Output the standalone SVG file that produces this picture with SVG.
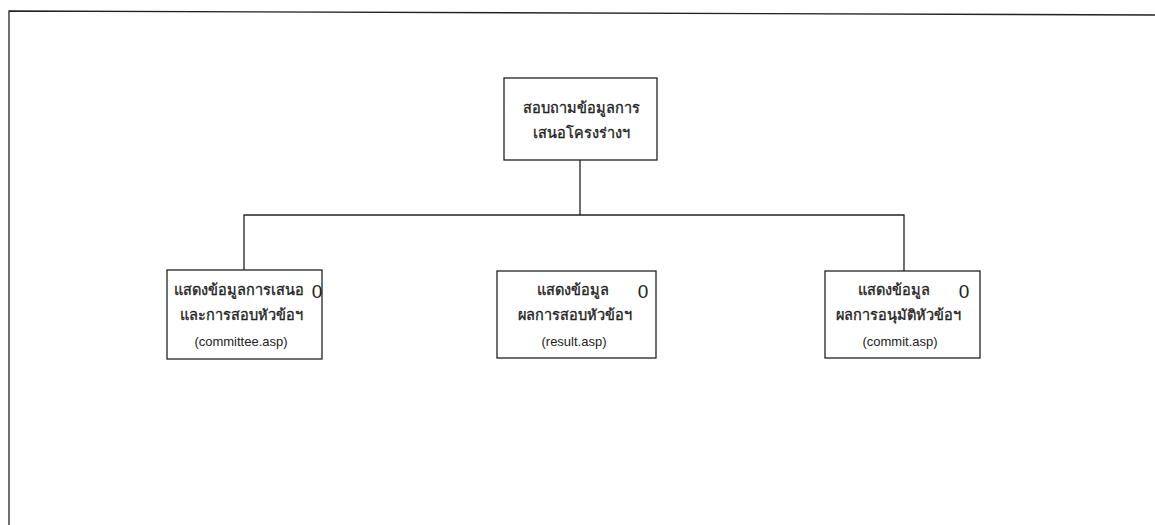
<svg xmlns="http://www.w3.org/2000/svg" width="1155" height="525" viewBox="0 0 1155 525">
<style>
.box{fill:#fff;stroke:#222;stroke-width:1.3}
.ln{fill:none;stroke:#222;stroke-width:1.3}
.t{font-family:"Noto Sans","DejaVu Sans",sans-serif;font-size:14.5px;fill:#222;stroke:#222;stroke-width:0.35;text-anchor:middle}
.s{font-family:"Liberation Sans",Arial,sans-serif;font-size:13px;fill:#222;text-anchor:middle}
.z{font-family:"Liberation Sans",Arial,sans-serif;font-size:19px;fill:#222;text-anchor:middle}
</style>
<rect width="1155" height="525" fill="#fff"/>
<g id="frame">
<path class="ln" d="M9,525 V11 L1155,15" stroke-width="1.6"/>
</g>
<g id="connectors">
<path class="ln" d="M580,160 V215"/>
<path class="ln" d="M244,270 V215 H904 V271"/>
</g>
<g id="node-top">
<rect class="box" x="504" y="78" width="153" height="82"/>
<text class="t" x="581" y="113">สอบถามข้อมูลการ</text>
<text class="t" x="581" y="138">เสนอโครงร่างฯ</text>
</g>
<g id="node-committee">
<rect class="box" x="167" y="270" width="155" height="89"/>
<text class="t" x="239" y="295">แสดงข้อมูลการเสนอ</text>
<text class="z" x="317" y="298">0</text>
<text class="t" x="241" y="320">และการสอบหัวข้อฯ</text>
<text class="s" x="241" y="346">(committee.asp)</text>
</g>
<g id="node-result">
<rect class="box" x="497" y="271" width="159" height="87"/>
<text class="t" x="573" y="295">แสดงข้อมูล</text>
<text class="z" x="643" y="298">0</text>
<text class="t" x="575" y="320">ผลการสอบหัวข้อฯ</text>
<text class="s" x="574" y="346">(result.asp)</text>
</g>
<g id="node-commit">
<rect class="box" x="825" y="271" width="155" height="87"/>
<text class="t" x="894" y="295">แสดงข้อมูล</text>
<text class="z" x="964" y="298">0</text>
<text class="t" x="898" y="320">ผลการอนุมัติหัวข้อฯ</text>
<text class="s" x="900" y="346">(commit.asp)</text>
</g>
</svg>
